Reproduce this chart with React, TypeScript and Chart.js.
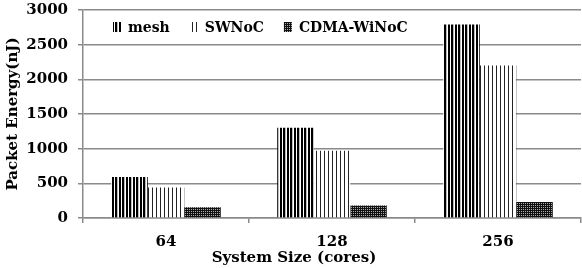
import React, { useEffect, useRef } from "react";
import { Chart, registerables } from "chart.js";

Chart.register(...registerables);

const categories = ["64", "128", "256"];
const seriesNames = ["mesh", "SWNoC", "CDMA-WiNoC"];
const meshValues = [590, 1300, 2790];
const swnocValues = [440, 970, 2200];
const cdmaValues = [155, 180, 230];
const yTicks = [0, 500, 1000, 1500, 2000, 2500, 3000];
const xTitle = "System Size (cores)";
const yTitle = "Packet Energy(nJ)";

const FONT = "'DejaVu Serif', serif";

function makePattern(ctx: CanvasRenderingContext2D, w: number, h: number, draw: (c: CanvasRenderingContext2D) => void) {
  const off = document.createElement("canvas");
  off.width = w;
  off.height = h;
  const c = off.getContext("2d")!;
  c.fillStyle = "#ffffff";
  c.fillRect(0, 0, w, h);
  draw(c);
  return ctx.createPattern(off, "repeat")!;
}

export default function App() {
  const canvasRef = useRef<HTMLCanvasElement | null>(null);

  useEffect(() => {
    document.body.style.margin = "0";
    const canvas = canvasRef.current!;
    const ctx = canvas.getContext("2d")!;

    const meshPat = makePattern(ctx, 7, 4, (c) => {
      c.fillStyle = "#000";
      c.fillRect(0, 0, 2, 4);
      c.fillRect(3, 0, 2, 4);
      c.fillStyle = "#bbb";
      c.fillRect(5, 0, 1, 4);
    });
    const swPat = makePattern(ctx, 4, 4, (c) => {
      c.fillStyle = "#222";
      c.fillRect(0, 0, 1, 4);
    });
    const cdmaPat = makePattern(ctx, 2, 2, (c) => {
      c.fillStyle = "#111";
      c.fillRect(0, 0, 2, 2);
      c.fillStyle = "#aaa";
      c.fillRect(1, 1, 1, 1);
    });
    const patterns = [meshPat, swPat, cdmaPat];

    const customLegend = {
      id: "customLegend",
      afterDraw(chart: any) {
        const c = chart.ctx;
        c.save();
        c.font = `bold 14px ${FONT}`;
        c.textBaseline = "middle";
        c.fillStyle = "#000";
        let x = 113;
        const yc = 27;
        chart.data.datasets.forEach((ds: any) => {
          c.fillStyle = ds.backgroundColor;
          c.fillRect(x, yc - 5, 8, 10);
          c.fillStyle = "#000";
          c.fillText(ds.label, x + 15, yc + 1);
          x += 15 + c.measureText(ds.label).width + 20;
        });
        c.font = `bold 15px ${FONT}`;
        c.textAlign = "center";
        c.fillText(xTitle, 294, 258);
        c.restore();
      },
    };

    const chart = new Chart(canvas, {
      type: "bar",
      data: {
        labels: categories,
        datasets: [
          { label: seriesNames[0], data: meshValues, backgroundColor: patterns[0] as any, borderWidth: 0 },
          { label: seriesNames[1], data: swnocValues, backgroundColor: patterns[1] as any, borderWidth: 0 },
          { label: seriesNames[2], data: cdmaValues, backgroundColor: patterns[2] as any, borderWidth: 0 },
        ],
      },
      options: {
        animation: false,
        responsive: false,
        maintainAspectRatio: false,
        layout: { padding: { top: 0, right: 1, bottom: 7, left: 0 } },
        datasets: { bar: { categoryPercentage: 0.66, barPercentage: 1.0 } },
        plugins: {
          legend: { display: false },
          tooltip: { enabled: false },
        },
        scales: {
          x: {
            offset: true,
            grid: {
              offset: true,
              drawOnChartArea: false,
              drawTicks: true,
              tickLength: 5,
              color: "#8a8a8a",
              lineWidth: 1.5,
            },
            border: { display: true, color: "#8a8a8a", width: 1.5 },
            ticks: {
              color: "#000",
              font: { family: FONT, size: 15, weight: "bold" },
              padding: 10,
              maxRotation: 0,
              autoSkip: false,
            },
          },
          y: {
            min: 0,
            max: 3000,
            afterBuildTicks: (axis: any) => {
              axis.ticks = yTicks.map((v) => ({ value: v }));
            },
            afterFit: (scale: any) => {
              scale.width = 83;
              scale.paddingTop = 10;
              scale.paddingBottom = 0;
            },
            grid: { color: "#8a8a8a", lineWidth: 1.5, tickLength: 5 },
            border: { display: true, color: "#8a8a8a", width: 1.5 },
            ticks: {
              color: "#000",
              font: { family: FONT, size: 15, weight: "bold" },
              padding: 10,
              callback: (v: any) => String(v),
            },
            title: {
              display: true,
              text: yTitle,
              color: "#000",
              font: { family: FONT, size: 15, weight: "bold" },
              padding: { top: 4, bottom: 4 },
            },
          },
        },
      },
      plugins: [customLegend],
    });

    return () => chart.destroy();
  }, []);

  return (
    <div style={{ width: 582, height: 268 }}>
      <canvas ref={canvasRef} width={582} height={268} style={{ display: "block" }} />
    </div>
  );
}
